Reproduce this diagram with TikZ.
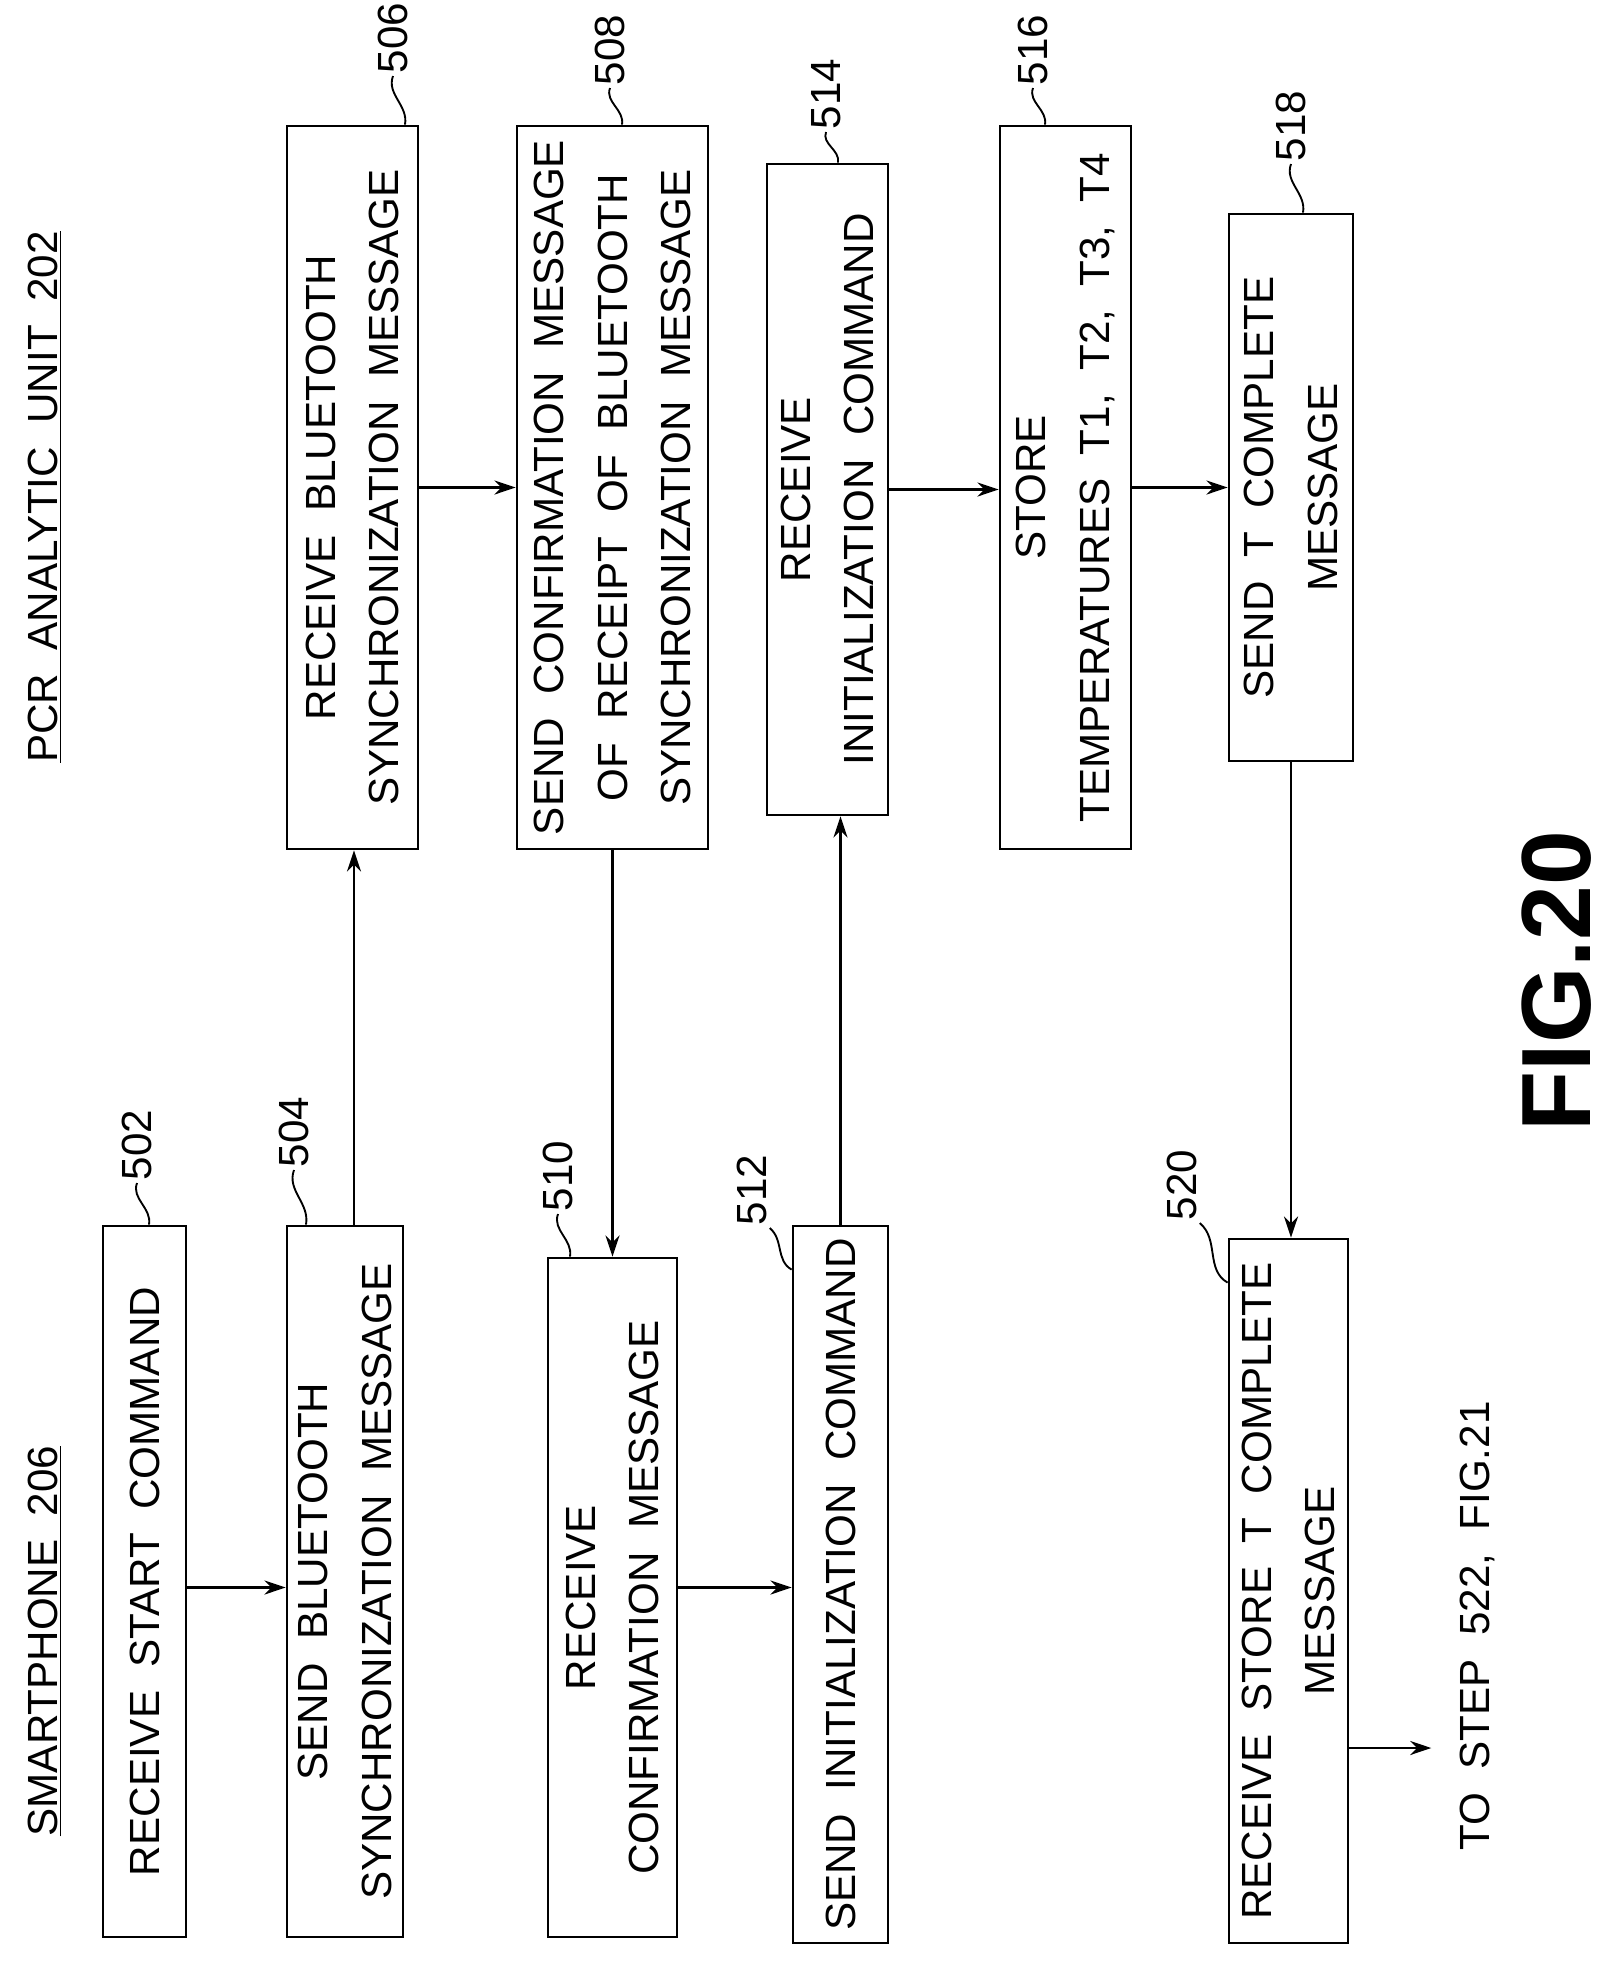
\documentclass[tikz,border=0pt]{standalone}
\usepackage{fontspec}
\setmainfont{Liberation Sans}
\usetikzlibrary{arrows.meta, calc, positioning}

\tikzset{
  step/.style 2 args={draw, line width=1.2pt, rotate=90, align=center, inner sep=2pt,
    minimum width=#1*0.015cm, minimum height=#2*0.015cm, font=\fontsize{18}{27}\selectfont},
  lbl/.style={rotate=90, inner sep=1pt, font=\fontsize{18}{20}\selectfont},
  head/.style={rotate=90, font=\fontsize{18}{22}\selectfont},
  flow/.style={line width=1pt, -{Stealth[length=9pt, width=6pt]}},
  lead/.style={line width=0.8pt}
}

\begin{document}
\begin{tikzpicture}[x=0.015cm, y=-0.015cm]
  \useasboundingbox (0,0) rectangle (1611,1961);

  % Column headings
  \node[head] (hsp) at (45,1641) {\underline{SMARTPHONE\ \ 206}};
  \node[head] (hpcr) at (45,497) {\underline{PCR\ \ ANALYTIC\ \ UNIT\ \ 202}};

  % Smartphone steps
  \node[step={711}{83}] (b502) at (144.5,1581.5) {RECEIVE\ \ START\ \ COMMAND};
  \node[step={711}{116}] (b504) at (345,1581.5) {SEND\ \ BLUETOOTH\\SYNCHRONIZATION\ \ MESSAGE};
  \node[step={679}{129}] (b510) at (612.5,1597.5) {RECEIVE\\CONFIRMATION\ \ MESSAGE};
  \node[step={717}{95}] (b512) at (840.5,1584.5) {SEND\ \ INITIALIZATION\ \ COMMAND};
  \node[step={704}{119}] (b520) at (1288.5,1591) {RECEIVE\ \ STORE\ \ T\ \ COMPLETE\\MESSAGE};

  % PCR analytic unit steps
  \node[step={723}{131}] (b506) at (352.5,487.5) {RECEIVE\ \ BLUETOOTH\\SYNCHRONIZATION\ \ MESSAGE};
  \node[step={723}{191}] (b508) at (612.5,487.5) {SEND\ \ CONFIRMATION\ \ MESSAGE\\OF\ \ RECEIPT\ \ OF\ \ BLUETOOTH\\SYNCHRONIZATION\ \ MESSAGE};
  \node[step={651}{121}] (b514) at (827.5,489.5) {RECEIVE\\INITIALIZATION\ \ COMMAND};
  \node[step={723}{131}] (b516) at (1065.5,487.5) {STORE\\TEMPERATURES\ \ T1,\ \ T2,\ \ T3,\ \ T4};
  \node[step={547}{124}] (b518) at (1291,487.5) {SEND\ \ T\ \ COMPLETE\\MESSAGE};

  % Continuation and figure title
  \node[head] (t522) at (1477,1626) {TO\ \ STEP\ \ 522,\ \ FIG.21};
  \node[rotate=90, font=\fontsize{42}{44}\selectfont\bfseries] (fig) at (1557,981) {FIG.20};

  % Reference numerals
  \node[lbl] (l502) at (137,1145) {502};
  \node[lbl] (l504) at (294,1132) {504};
  \node[lbl] (l510) at (558,1176) {510};
  \node[lbl] (l512) at (752,1190) {512};
  \node[lbl] (l520) at (1182,1185) {520};
  \node[lbl] (l506) at (393,38) {506};
  \node[lbl] (l508) at (610,50) {508};
  \node[lbl] (l514) at (826,94) {514};
  \node[lbl] (l516) at (1033,50) {516};
  \node[lbl] (l518) at (1291,126) {518};

  \foreach \n in {502,504,510,506,508,514,516,518}
    \draw[lead] (l\n.west) to[out=-110,in=80] ($(l\n.west |- b\n.east)+(12,0)$);
  \foreach \n in {512,520}
    \draw[lead] (l\n.south west) to[out=-40,in=150] ($(b\n.north east)+(0,45)$);

  % Message flow
  \draw[flow] ($(b502.south)+(0,6)$) -- ($(b502.south -| b504.north)+(0,6)$);
  \draw[flow] ($(b504.east)+(9,0)$) -- ($(b504.east |- b506.west)+(9,0)$);
  \draw[flow] (b506.south) -- (b506.south -| b508.north);
  \draw[flow] (b508.west) -- (b508.west |- b510.east);
  \draw[flow] ($(b510.south)+(0,-10)$) -- ($(b510.south -| b512.north)+(0,-10)$);
  \draw[flow] (b512.east) -- (b512.east |- b514.west);
  \draw[flow] (b514.south) -- (b514.south -| b516.north);
  \draw[flow] (b516.south) -- (b516.south -| b518.north);
  \draw[flow] (b518.west) -- (b518.west |- b520.east);
  \draw[flow, shorten >=20*0.015cm] ($(b520.south)+(0,157)$) -- ($(b520.south -| t522.north)+(0,157)$);
\end{tikzpicture}
\end{document}
